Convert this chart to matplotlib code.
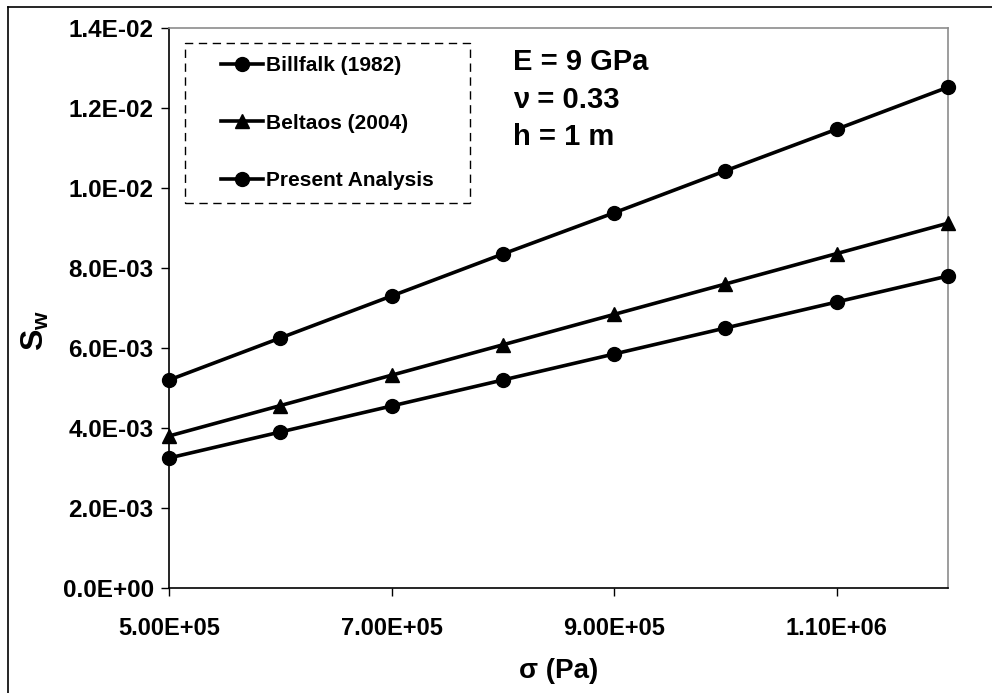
import numpy as np
import matplotlib.pyplot as plt
from matplotlib.patches import Rectangle
from matplotlib.lines import Line2D
from matplotlib.ticker import FuncFormatter

plt.rcParams['font.family'] = ['Liberation Sans', 'DejaVu Sans']
plt.rcParams['font.weight'] = 'bold'
plt.rcParams['mathtext.fontset'] = 'custom'
plt.rcParams['mathtext.bf'] = 'Liberation Sans:bold'
plt.rcParams['mathtext.rm'] = 'Liberation Sans:bold'

# stress values (Pa)
sigma = [5.0e5, 6.0e5, 7.0e5, 8.0e5, 9.0e5, 1.0e6, 1.1e6, 1.2e6]

# S_w for each method
billfalk = [5.20e-3, 6.25e-3, 7.30e-3, 8.35e-3, 9.38e-3, 1.043e-2, 1.147e-2, 1.252e-2]
beltaos = [3.80e-3, 4.56e-3, 5.32e-3, 6.08e-3, 6.84e-3, 7.60e-3, 8.36e-3, 9.12e-3]
present = [3.25e-3, 3.90e-3, 4.55e-3, 5.20e-3, 5.85e-3, 6.50e-3, 7.15e-3, 7.80e-3]

labels = ["Billfalk (1982)", "Beltaos (2004)", "Present Analysis"]
xticks = [5.0e5, 7.0e5, 9.0e5, 1.1e6]
yticks = [0, 2e-3, 4e-3, 6e-3, 8e-3, 1.0e-2, 1.2e-2, 1.4e-2]
props = ["E = 9 GPa", "\u03bd = 0.33", "h = 1 m"]

W, H = 992, 693
fig = plt.figure(figsize=(W / 100, H / 100), dpi=100)

# outer chart border (only top and left fall inside the image)
fig.add_artist(Line2D([8 / W, 8 / W], [0, 1 - 7 / H], color='black', lw=1.2,
                      transform=fig.transFigure))
fig.add_artist(Line2D([8 / W, 1], [1 - 7 / H, 1 - 7 / H], color='black', lw=1.2,
                      transform=fig.transFigure))

ax = fig.add_axes([169 / W, 105 / H, 779 / W, 560 / H])

ax.plot(sigma, billfalk, color='black', lw=2.6, marker='o', ms=10, label=labels[0],
        clip_on=False, zorder=3)
ax.plot(sigma, beltaos, color='black', lw=2.6, marker='^', ms=10, label=labels[1],
        clip_on=False, zorder=3)
ax.plot(sigma, present, color='black', lw=2.6, marker='o', ms=10, label=labels[2],
        clip_on=False, zorder=3)

ax.set_xlim(5.0e5, 1.2e6)
ax.set_ylim(0, 1.4e-2)
ax.set_xticks(xticks)
ax.set_yticks(yticks)
ax.xaxis.set_major_formatter(FuncFormatter(lambda v, p: "%.2E" % v))
ax.yaxis.set_major_formatter(FuncFormatter(lambda v, p: "%.1E" % v))
ax.tick_params(axis='both', direction='out', length=6, width=1, color='black')
ax.tick_params(axis='x', pad=15, labelsize=17)
ax.tick_params(axis='y', pad=5, labelsize=17.5)

for side in ['top', 'right']:
    ax.spines[side].set_color('#8c8c8c')
    ax.spines[side].set_linewidth(1.2)
for side in ['left', 'bottom']:
    ax.spines[side].set_color('black')
    ax.spines[side].set_linewidth(1.2)

ax.set_ylabel(r'$\mathbf{S_w}$', fontsize=23)
ax.yaxis.set_label_coords(-0.152, 0.46)
ax.set_xlabel("\u03c3 (Pa)", fontsize=20, fontweight='bold')
ax.xaxis.set_label_coords(0.5, -0.125)

leg = ax.legend(loc='upper left', bbox_to_anchor=(221 / W, 1 - 56 / H),
                bbox_transform=fig.transFigure, frameon=False, fontsize=15,
                handlelength=2.0, handletextpad=0.15, labelspacing=1.85,
                borderpad=0, borderaxespad=0)

# dashed frame around the legend
fig.add_artist(Rectangle((185 / W, 1 - 203 / H), 285 / W, 160 / H, fill=False,
                         edgecolor='black', lw=1, linestyle=(0, (6, 4)),
                         transform=fig.transFigure))

for i, s in enumerate(props):
    fig.text(513 / W, 1 - (70 + 37.5 * i) / H, s, fontsize=21, fontweight='bold',
             va='baseline', ha='left')

fig.savefig('out.png', dpi=100)
